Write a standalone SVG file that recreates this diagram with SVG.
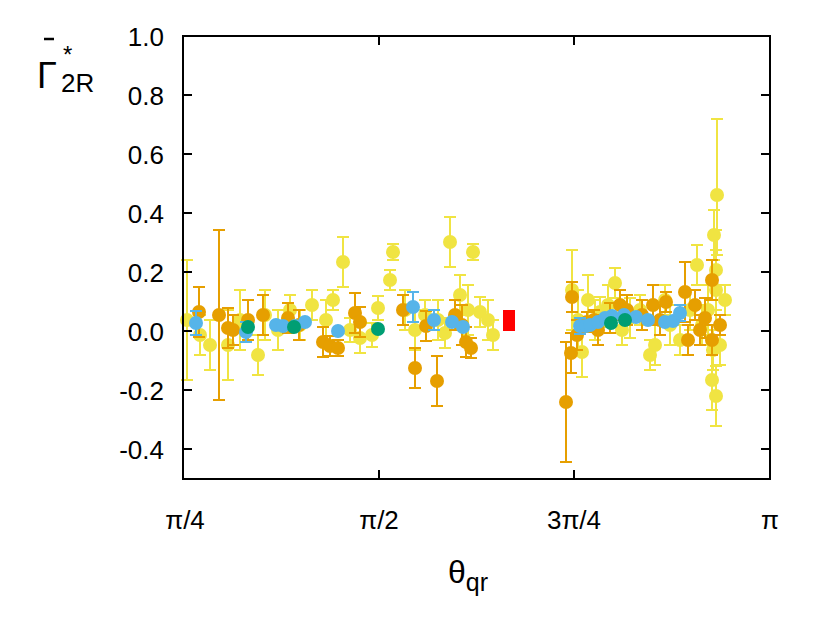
<svg xmlns="http://www.w3.org/2000/svg" width="830" height="625" viewBox="0 0 830 625">
<style>
text{font-family:"Liberation Sans",Arial,sans-serif;fill:#000}
.t{font-size:26px}
.y path{stroke:#f0e442;stroke-width:2;fill:none}.y circle{fill:#f0e442}
.o path{stroke:#e69f00;stroke-width:2;fill:none}.o circle{fill:#e69f00}
.b path{stroke:#56b4e9;stroke-width:2;fill:none}.b circle{fill:#56b4e9}
.g circle{fill:#009e73}
circle{r:7px}
.ax{stroke:#000;stroke-width:2;fill:none}
</style>
<rect width="830" height="625" fill="#fff"/>
<g id="yellow" class="y"><path d="M187,260V380M181,260h12M181,380h12M200,315V355M194,315h12M194,355h12M210,320V370M204,320h12M204,370h12M228,310V380M222,310h12M222,380h12M240,290V350M234,290h12M234,350h12M258,335V375M252,335h12M252,375h12M265,290V340M259,290h12M259,340h12M278,310V350M272,310h12M272,350h12M290,295V325M284,295h12M284,325h12M300,310V340M294,310h12M294,340h12M312,290V320M306,290h12M306,320h12M326,300V340M320,300h12M320,340h12M333,290V310M327,290h12M327,310h12M343,237V287M337,237h12M337,287h12M350,318V342M344,318h12M344,342h12M360,323V353M354,323h12M354,353h12M372,323V347M366,323h12M366,347h12M378,296V320M372,296h12M372,320h12M390,270V290M384,270h12M384,290h12M393,244V260M387,244h12M387,260h12M405,290V330M399,290h12M399,330h12M415,310V350M409,310h12M409,350h12M425,300V330M419,300h12M419,330h12M438,300V340M432,300h12M432,340h12M445,318V348M439,318h12M439,348h12M450,217V267M444,217h12M444,267h12M460,275V315M454,275h12M454,315h12M468,285V335M462,285h12M462,335h12M473,244V260M467,244h12M467,260h12M480,297V327M474,297h12M474,327h12M488,300V340M482,300h12M482,340h12M493,320V350M487,320h12M487,350h12M572,250V330M566,250h12M566,330h12M578,290V350M572,290h12M572,350h12M582,327V377M576,327h12M576,377h12M588,275V325M582,275h12M582,325h12M595,300V340M589,300h12M589,340h12M600,297V327M594,297h12M594,327h12M608,285V325M602,285h12M602,325h12M615,268V298M609,268h12M609,298h12M622,315V345M616,315h12M616,345h12M630,298V338M624,298h12M624,338h12M640,295V325M634,295h12M634,325h12M650,340V370M644,340h12M644,370h12M655,325V365M649,325h12M649,365h12M665,285V315M659,285h12M659,315h12M670,305V345M664,305h12M664,345h12M680,325V355M674,325h12M674,355h12M690,290V330M684,290h12M684,330h12M697,245V285M691,245h12M691,285h12M702,305V345M696,305h12M696,345h12M708,285V335M702,285h12M702,335h12M713,330V370M707,330h12M707,370h12M712,350V410M706,350h12M706,410h12M716,250V330M710,250h12M710,330h12M716,366V426M710,366h12M710,426h12M714,210V260M708,210h12M708,260h12M716,230V310M710,230h12M710,310h12M717,119V255M711,119h12M711,255h12M720,325V365M714,325h12M714,365h12M725,285V315M719,285h12M719,315h12"/>
<circle cx="187" cy="320" r="7"/><circle cx="200" cy="335" r="7"/><circle cx="210" cy="345" r="7"/><circle cx="228" cy="345" r="7"/><circle cx="240" cy="320" r="7"/><circle cx="258" cy="355" r="7"/><circle cx="265" cy="315" r="7"/><circle cx="278" cy="330" r="7"/><circle cx="290" cy="310" r="7"/><circle cx="300" cy="325" r="7"/><circle cx="312" cy="305" r="7"/><circle cx="326" cy="320" r="7"/><circle cx="333" cy="300" r="7"/><circle cx="343" cy="262" r="7"/><circle cx="350" cy="330" r="7"/><circle cx="360" cy="338" r="7"/><circle cx="372" cy="335" r="7"/><circle cx="378" cy="308" r="7"/><circle cx="390" cy="280" r="7"/><circle cx="393" cy="252" r="7"/><circle cx="405" cy="310" r="7"/><circle cx="415" cy="330" r="7"/><circle cx="425" cy="315" r="7"/><circle cx="438" cy="320" r="7"/><circle cx="445" cy="333" r="7"/><circle cx="450" cy="242" r="7"/><circle cx="460" cy="295" r="7"/><circle cx="468" cy="310" r="7"/><circle cx="473" cy="252" r="7"/><circle cx="480" cy="312" r="7"/><circle cx="488" cy="320" r="7"/><circle cx="493" cy="335" r="7"/><circle cx="572" cy="290" r="7"/><circle cx="578" cy="320" r="7"/><circle cx="582" cy="352" r="7"/><circle cx="588" cy="300" r="7"/><circle cx="595" cy="320" r="7"/><circle cx="600" cy="312" r="7"/><circle cx="608" cy="305" r="7"/><circle cx="615" cy="283" r="7"/><circle cx="622" cy="330" r="7"/><circle cx="630" cy="318" r="7"/><circle cx="640" cy="310" r="7"/><circle cx="650" cy="355" r="7"/><circle cx="655" cy="345" r="7"/><circle cx="665" cy="300" r="7"/><circle cx="670" cy="325" r="7"/><circle cx="680" cy="340" r="7"/><circle cx="690" cy="310" r="7"/><circle cx="697" cy="265" r="7"/><circle cx="702" cy="325" r="7"/><circle cx="708" cy="310" r="7"/><circle cx="713" cy="350" r="7"/><circle cx="712" cy="380" r="7"/><circle cx="716" cy="290" r="7"/><circle cx="716" cy="396" r="7"/><circle cx="714" cy="235" r="7"/><circle cx="716" cy="270" r="7"/><circle cx="717" cy="195" r="7"/><circle cx="720" cy="345" r="7"/><circle cx="725" cy="300" r="7"/></g>
<g id="orange" class="o"><path d="M199,287V337M193,287h12M193,337h12M219,230V400M213,230h12M213,400h12M228,308V348M222,308h12M222,348h12M233,315V345M227,315h12M227,345h12M248,300V340M242,300h12M242,340h12M263,295V335M257,295h12M257,335h12M288,303V333M282,303h12M282,333h12M299,310V340M293,310h12M293,340h12M323,327V357M317,327h12M317,357h12M330,336V356M324,336h12M324,356h12M338,340V356M332,340h12M332,356h12M355,293V333M349,293h12M349,333h12M360,307V337M354,307h12M354,337h12M403,295V325M397,295h12M397,325h12M415,348V388M409,348h12M409,388h12M426,311V341M420,311h12M420,341h12M437,356V406M431,356h12M431,406h12M455,300V330M449,300h12M449,330h12M462,305V345M456,305h12M456,345h12M466,327V357M460,327h12M460,357h12M471,338V358M465,338h12M465,358h12M572,282V312M566,282h12M566,312h12M571,333V373M565,333h12M565,373h12M577,320V350M571,320h12M571,350h12M587,312V332M581,312h12M581,332h12M594,310V330M588,310h12M588,330h12M566,342V462M560,342h12M560,462h12M598,315V345M592,315h12M592,345h12M610,303V333M604,303h12M604,333h12M620,290V320M614,290h12M614,320h12M627,295V325M621,295h12M621,325h12M642,300V330M636,300h12M636,330h12M653,285V325M647,285h12M647,325h12M660,305V335M654,305h12M654,335h12M666,292V312M660,292h12M660,312h12M685,262V322M679,262h12M679,322h12M688,325V355M682,325h12M682,355h12M695,290V320M689,290h12M689,320h12M700,315V345M694,315h12M694,345h12M705,298V338M699,298h12M699,338h12M712,260V300M706,260h12M706,300h12M712,325V355M706,325h12M706,355h12M720,315V335M714,315h12M714,335h12"/>
<circle cx="199" cy="312" r="7"/><circle cx="219" cy="315" r="7"/><circle cx="228" cy="328" r="7"/><circle cx="233" cy="330" r="7"/><circle cx="248" cy="320" r="7"/><circle cx="263" cy="315" r="7"/><circle cx="288" cy="318" r="7"/><circle cx="299" cy="325" r="7"/><circle cx="323" cy="342" r="7"/><circle cx="330" cy="346" r="7"/><circle cx="338" cy="348" r="7"/><circle cx="355" cy="313" r="7"/><circle cx="360" cy="322" r="7"/><circle cx="403" cy="310" r="7"/><circle cx="415" cy="368" r="7"/><circle cx="426" cy="326" r="7"/><circle cx="437" cy="381" r="7"/><circle cx="455" cy="315" r="7"/><circle cx="462" cy="325" r="7"/><circle cx="466" cy="342" r="7"/><circle cx="471" cy="348" r="7"/><circle cx="572" cy="297" r="7"/><circle cx="571" cy="353" r="7"/><circle cx="577" cy="335" r="7"/><circle cx="587" cy="322" r="7"/><circle cx="594" cy="320" r="7"/><circle cx="566" cy="402" r="7"/><circle cx="598" cy="330" r="7"/><circle cx="610" cy="318" r="7"/><circle cx="620" cy="305" r="7"/><circle cx="627" cy="310" r="7"/><circle cx="642" cy="315" r="7"/><circle cx="653" cy="305" r="7"/><circle cx="660" cy="320" r="7"/><circle cx="666" cy="302" r="7"/><circle cx="685" cy="292" r="7"/><circle cx="688" cy="340" r="7"/><circle cx="695" cy="305" r="7"/><circle cx="700" cy="330" r="7"/><circle cx="705" cy="318" r="7"/><circle cx="712" cy="280" r="7"/><circle cx="712" cy="340" r="7"/><circle cx="720" cy="325" r="7"/></g>
<g id="blue" class="b"><path d="M196,311V335M190,311h12M190,335h12M246,322V342M240,322h12M240,342h12M413,292V322M407,292h12M407,322h12M434,310V330M428,310h12M428,330h12M580,318V334M574,318h12M574,334h12M680,305V321M674,305h12M674,321h12"/>
<circle cx="196" cy="323" r="7"/><circle cx="246" cy="332" r="7"/><circle cx="276" cy="325" r="7"/><circle cx="283" cy="326" r="7"/><circle cx="295" cy="326" r="7"/><circle cx="305" cy="322" r="7"/><circle cx="338" cy="331" r="7"/><circle cx="413" cy="307" r="7"/><circle cx="434" cy="320" r="7"/><circle cx="452" cy="322" r="7"/><circle cx="463" cy="327" r="7"/><circle cx="580" cy="326" r="7"/><circle cx="586" cy="326" r="7"/><circle cx="590" cy="325" r="7"/><circle cx="598" cy="322" r="7"/><circle cx="605" cy="318" r="7"/><circle cx="612" cy="316" r="7"/><circle cx="624" cy="315" r="7"/><circle cx="636" cy="317" r="7"/><circle cx="648" cy="320" r="7"/><circle cx="665" cy="322" r="7"/><circle cx="673" cy="321" r="7"/><circle cx="680" cy="313" r="7"/></g>
<g id="green" class="g"><circle cx="248" cy="327" r="7"/><circle cx="294" cy="327" r="7"/><circle cx="378" cy="329" r="7"/><circle cx="611" cy="323" r="7"/><circle cx="625" cy="320" r="7"/></g>
<g id="red" fill="#ff0000"><rect x="503" y="310" width="12" height="21"/></g>
<g id="axes"><rect class="ax" x="183" y="36" width="587" height="443"/>
<path class="ax" d="M183,36h9M183,95h9M183,154h9M183,213h9M183,272h9M183,331h9M183,390h9M183,449h9M770,36h-9M770,95h-9M770,154h-9M770,213h-9M770,272h-9M770,331h-9M770,390h-9M770,449h-9M183,479v-9M379,479v-9M574,479v-9M770,479v-9M183,36v9M379,36v9M574,36v9M770,36v9"/>
<g class="t" text-anchor="end"><text x="164" y="46">1.0</text><text x="164" y="105">0.8</text><text x="164" y="164">0.6</text><text x="164" y="223">0.4</text><text x="164" y="282">0.2</text><text x="164" y="341">0.0</text><text x="164" y="400">-0.2</text><text x="164" y="459">-0.4</text></g>
<g class="t" text-anchor="middle"><text x="185" y="529">π/4</text><text x="379" y="529">π/2</text><text x="574" y="529">3π/4</text><text x="770" y="529">π</text></g>
<text x="448" y="583" font-size="32">θ<tspan font-size="25" dy="8">qr</tspan></text>
<text x="37" y="88" font-size="36">Γ</text><path d="M44,39h10" stroke="#000" stroke-width="2.5"/><text x="63" y="63" font-size="24">*</text><text x="61" y="92" font-size="26">2R</text>
</g>
</svg>
